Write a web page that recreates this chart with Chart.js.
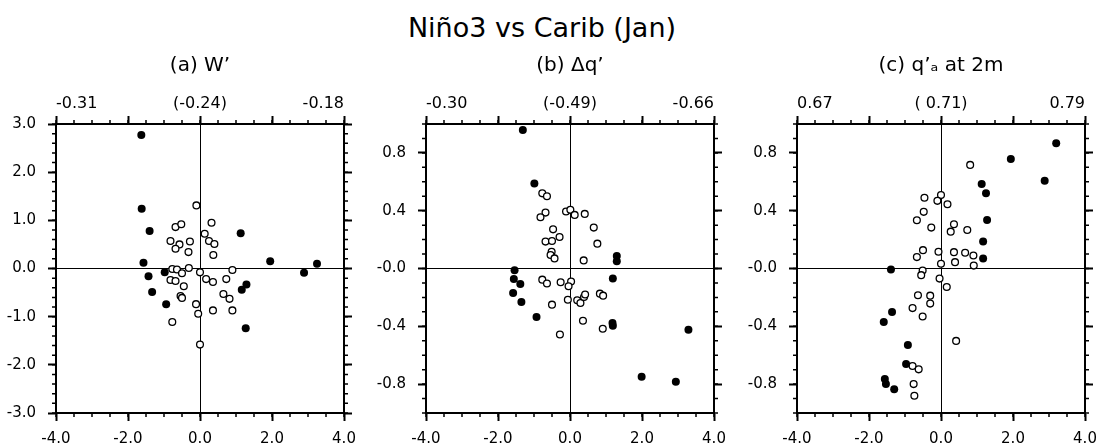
<!DOCTYPE html>
<html>
<head>
<meta charset="utf-8">
<script src="https://cdn.jsdelivr.net/npm/chart.js@4"></script>
<style>
  html, body { margin: 0; background: #fff; overflow: hidden; }
  body { position: relative; width: 1099px; height: 444px; font-family: "DejaVu Sans", sans-serif; }
  #title { position: absolute; top: 12px; left: 0; width: 1084px; text-align: center; font-size: 27px; line-height: 32px; color: #000; }
  canvas { position: absolute; top: 0; }
</style>
</head>
<body>
<div id="title">Niño3 vs Carib (Jan)</div>
<canvas id="panelA" width="400" height="444" style="left:0px"></canvas>
<canvas id="panelB" width="400" height="444" style="left:370px"></canvas>
<canvas id="panelC" width="400" height="444" style="left:741px"></canvas>
<script>
//Tick labels
const xVals = [-4, -2, 0, 2, 4];
const xLabels = ["-4.0", "-2.0", "0.0", "2.0", "4.0"];
const topVals = [-4, 0, 4];
const topLabelsA = ["-0.31", "(-0.24)", "-0.18"];
const topLabelsB = ["-0.30", "(-0.49)", "-0.66"];
const topLabelsC = ["0.67", "( 0.71)", "0.79"];
const yValsA = [3, 2, 1, 0, -1, -2, -3];
const yLabelsA = ["3.0", "2.0", "1.0", "0.0", "-1.0", "-2.0", "-3.0"];
const yValsQ = [0.8, 0.4, 0, -0.4, -0.8];
const yLabelsQ = ["0.8", "0.4", "-0.0", "-0.4", "-0.8"];

//(a) W'
const aFilledX = [-1.63, -1.62, -1.40, 1.13, -1.57, 1.95, 3.25, 2.89, -1.43, -0.98, -1.33, -0.94, 1.16, 1.29, 1.27];
const aFilledY = [2.77, 1.24, 0.78, 0.73, 0.12, 0.15, 0.10, -0.09, -0.16, -0.08, -0.49, -0.74, -0.44, -0.33, -1.24];
const aOpenX = [-0.10, 0.32, -0.68, -0.52, 0.13, 0.25, 0.40, -0.82, -0.57, -0.28, -0.68, -0.32, 0.37, -0.77, -0.64, -0.31, -0.50, 0.00, 0.90, -0.82, -0.68, -0.45, 0.17, 0.36, 0.73, -0.54, -0.50, 0.65, 0.82, -0.11, -0.05, 0.36, 0.90, -0.77, 0.00];
const aOpenY = [1.31, 0.95, 0.86, 0.92, 0.72, 0.57, 0.51, 0.57, 0.50, 0.56, 0.41, 0.34, 0.28, -0.01, -0.02, 0.01, -0.10, -0.08, -0.03, -0.24, -0.26, -0.37, -0.22, -0.28, -0.22, -0.57, -0.61, -0.53, -0.63, -0.74, -0.94, -0.87, -0.87, -1.11, -1.58];

//(b) dq'
const bFilledX = [-1.31, -0.99, 1.30, 1.30, -1.54, -1.56, -1.38, -1.58, -1.35, -0.93, 1.19, 1.18, 1.19, 3.29, 1.99, 2.94];
const bFilledY = [0.958, 0.589, 0.086, 0.051, -0.012, -0.072, -0.107, -0.169, -0.232, -0.336, -0.070, -0.378, -0.397, -0.424, -0.749, -0.784];
const bOpenX = [-0.77, -0.64, -0.11, 0.01, 0.13, 0.41, -0.68, -0.82, 0.66, -0.47, -0.29, -0.68, -0.50, 0.76, -0.51, -0.54, -0.43, 0.38, -0.77, -0.64, -0.26, 0.03, -0.04, -0.06, 0.20, 0.29, 0.39, 0.42, 0.83, 0.92, -0.50, 0.36, 0.91, -0.28];
const bOpenY = [0.52, 0.50, 0.394, 0.406, 0.371, 0.378, 0.387, 0.355, 0.283, 0.271, 0.218, 0.186, 0.19, 0.172, 0.116, 0.093, 0.070, 0.056, -0.077, -0.104, -0.095, -0.09, -0.123, -0.216, -0.220, -0.239, -0.197, -0.18, -0.174, -0.188, -0.250, -0.362, -0.417, -0.457];

//(c) qa' at 2m
const cFilledX = [3.20, 1.94, 2.88, 1.13, 1.25, 1.28, 1.17, 1.17, -1.39, -1.36, -1.59, -0.92, -0.97, -1.56, -1.53, -1.30];
const cFilledY = [0.867, 0.758, 0.607, 0.584, 0.52, 0.336, 0.186, 0.07, -0.007, -0.301, -0.371, -0.529, -0.661, -0.765, -0.80, -0.835];
const cOpenX = [0.81, -0.46, 0.00, -0.10, 0.18, -0.48, -0.67, -0.27, 0.36, 0.27, 0.73, -0.50, -0.67, -0.07, 0.36, 0.39, 0.00, 0.67, 0.90, 0.91, -0.51, -0.55, -0.04, 0.16, -0.64, -0.30, -0.30, -0.79, -0.51, 0.42, -0.79, -0.62, -0.76, -0.74];
const cOpenY = [0.717, 0.49, 0.508, 0.468, 0.445, 0.392, 0.334, 0.283, 0.306, 0.255, 0.266, 0.127, 0.079, 0.116, 0.113, 0.044, 0.033, 0.109, 0.09, 0.02, -0.014, -0.046, -0.070, -0.128, -0.185, -0.188, -0.243, -0.274, -0.332, -0.501, -0.675, -0.698, -0.80, -0.881];

Chart.defaults.font.family = "'DejaVu Sans', sans-serif";
Chart.defaults.color = "#000";

// small ticks between the labelled ones, on all four sides
const minorTicks = {
  id: "minorTicks",
  afterDraw(chart, args, opts) {
    const ctx = chart.ctx;
    const area = chart.chartArea;
    ctx.save();
    ctx.strokeStyle = "#000";
    ctx.lineWidth = 1.5;
    ctx.beginPath();
    for (const id of ["x", "x2", "y", "y2"]) {
      const scale = chart.scales[id];
      const step = id[0] === "x" ? opts.x : opts.y;
      const n = Math.round((scale.max - scale.min) / step);
      for (let i = 0; i <= n; i++) {
        const p = scale.getPixelForValue(scale.min + i * step);
        if (id === "x") { ctx.moveTo(p, area.bottom); ctx.lineTo(p, area.bottom + 4); }
        if (id === "x2") { ctx.moveTo(p, area.top); ctx.lineTo(p, area.top - 4); }
        if (id === "y") { ctx.moveTo(area.left, p); ctx.lineTo(area.left - 4, p); }
        if (id === "y2") { ctx.moveTo(area.right, p); ctx.lineTo(area.right + 4, p); }
      }
    }
    ctx.stroke();
    ctx.restore();
  },
};

function toPoints(xs, ys) {
  return xs.map((x, i) => ({ x: x, y: ys[i] }));
}

function labelFor(vals, labels) {
  return function (v) {
    const i = vals.indexOf(Math.round(v * 10) / 10);
    return i >= 0 ? labels[i] : "";
  };
}

function fixedTicks(vals) {
  return (s) => { s.ticks = vals.map((v) => ({ value: v })); };
}

function zeroLine(c) {
  return c.tick && Math.abs(c.tick.value) < 1e-9 ? "#000" : "rgba(0,0,0,0)";
}

function drawPanel(id, p) {
  const border = { color: "#000", width: 2 };
  new Chart(document.querySelector(id), {
    type: "scatter",
    data: {
      datasets: [
        {
          data: toPoints(p.filledX, p.filledY),
          pointRadius: 4,
          pointBorderWidth: 0,
          pointBackgroundColor: "#000",
        },
        {
          data: toPoints(p.openX, p.openY),
          pointRadius: 3.4,
          pointBorderWidth: 1.3,
          pointBorderColor: "#000",
          pointBackgroundColor: "#fff",
        },
      ],
    },
    options: {
      responsive: false,
      animation: false,
      events: [],
      layout: { padding: { top: 54, left: 0, right: 0, bottom: 0 } },
      plugins: {
        legend: { display: false },
        tooltip: { enabled: false },
        title: {
          display: true,
          text: p.title,
          color: "#000",
          padding: 0,
          font: { size: 20, weight: "normal" },
        },
        minorTicks: { x: 0.5, y: p.yMinor },
      },
      scales: {
        x: {
          type: "linear",
          position: "bottom",
          min: -4,
          max: 4,
          border: border,
          grid: { color: zeroLine, lineWidth: 1, tickColor: "#000", tickWidth: 2, tickLength: 8 },
          ticks: { autoSkip: false, maxRotation: 0, padding: 9, font: { size: 15 }, callback: labelFor(xVals, xLabels) },
          afterBuildTicks: fixedTicks(xVals),
          afterFit: (s) => { s.height = 31; },
        },
        x2: {
          type: "linear",
          position: "top",
          min: -4,
          max: 4,
          border: border,
          grid: { drawOnChartArea: false, tickColor: "#000", tickWidth: 2, tickLength: 8 },
          ticks: { autoSkip: false, maxRotation: 0, padding: 3, align: "inner", font: { size: 16 }, callback: labelFor(topVals, p.topLabels) },
          afterBuildTicks: fixedTicks(xVals),
          afterFit: (s) => { s.height = 46; },
        },
        y: {
          type: "linear",
          position: "left",
          min: -p.yMax,
          max: p.yMax,
          border: border,
          grid: { color: zeroLine, lineWidth: 1, tickColor: "#000", tickWidth: 2, tickLength: 8 },
          ticks: { autoSkip: false, padding: 12, font: { size: 15 }, callback: labelFor(p.yVals, p.yLabels) },
          afterBuildTicks: fixedTicks(p.yVals),
          afterFit: (s) => { s.width = 56; },
        },
        y2: {
          type: "linear",
          position: "right",
          min: -p.yMax,
          max: p.yMax,
          border: border,
          grid: { drawOnChartArea: false, tickColor: "#000", tickWidth: 2, tickLength: 8 },
          ticks: { display: false },
          afterBuildTicks: fixedTicks(p.yVals),
          afterFit: (s) => { s.width = 56; },
        },
      },
    },
    plugins: [minorTicks],
  });
}

drawPanel("#panelA", {
  title: "(a) W\u2019", topLabels: topLabelsA,
  yMax: 3, yMinor: 0.2, yVals: yValsA, yLabels: yLabelsA,
  filledX: aFilledX, filledY: aFilledY, openX: aOpenX, openY: aOpenY,
});
drawPanel("#panelB", {
  title: "(b) \u0394q\u2019", topLabels: topLabelsB,
  yMax: 1, yMinor: 0.1, yVals: yValsQ, yLabels: yLabelsQ,
  filledX: bFilledX, filledY: bFilledY, openX: bOpenX, openY: bOpenY,
});
drawPanel("#panelC", {
  title: "(c) q\u2019\u2090 at 2m", topLabels: topLabelsC,
  yMax: 1, yMinor: 0.1, yVals: yValsQ, yLabels: yLabelsQ,
  filledX: cFilledX, filledY: cFilledY, openX: cOpenX, openY: cOpenY,
});
</script>
</body>
</html>
